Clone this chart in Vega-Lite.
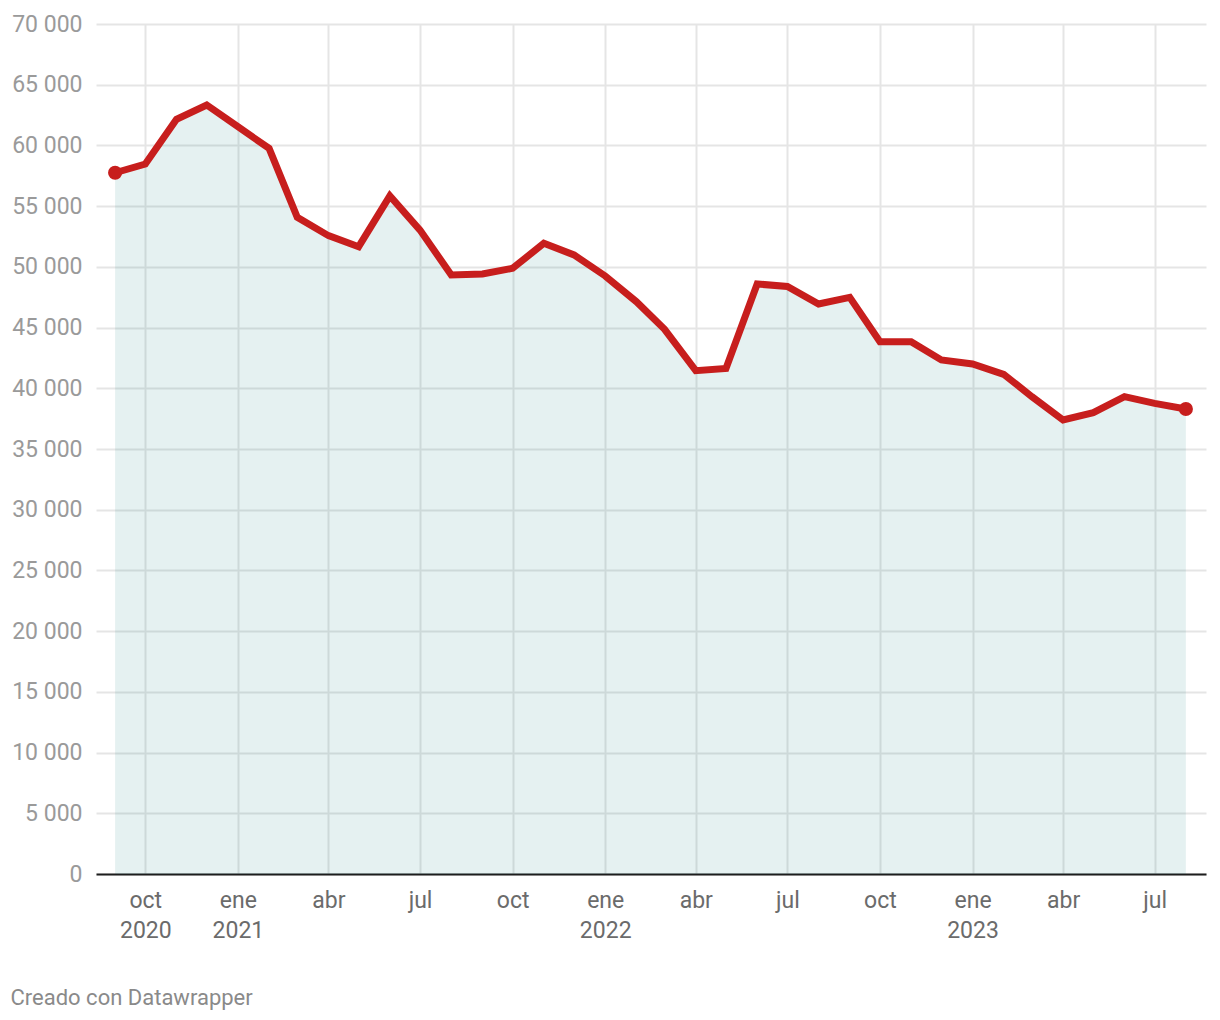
{
  "$schema": "https://vega.github.io/schema/vega-lite/v6.json",
  "width": 1110,
  "height": 850,
  "autosize": "none",
  "padding": {"left": 96, "top": 24, "right": 14, "bottom": 146},
  "background": "#ffffff",
  "config": {
    "view": {"stroke": null},
    "font": "Roboto"
  },
  "data": {
    "values": [
      {"date": "2020-09-01", "value": 57750},
      {"date": "2020-10-01", "value": 58470},
      {"date": "2020-11-01", "value": 62150},
      {"date": "2020-12-01", "value": 63330},
      {"date": "2021-01-01", "value": 61540},
      {"date": "2021-02-01", "value": 59760},
      {"date": "2021-03-01", "value": 54080},
      {"date": "2021-04-01", "value": 52570},
      {"date": "2021-05-01", "value": 51660},
      {"date": "2021-06-01", "value": 55840},
      {"date": "2021-07-01", "value": 53030},
      {"date": "2021-08-01", "value": 49330},
      {"date": "2021-09-01", "value": 49410},
      {"date": "2021-10-01", "value": 49880},
      {"date": "2021-11-01", "value": 51940},
      {"date": "2021-12-01", "value": 50980},
      {"date": "2022-01-01", "value": 49250},
      {"date": "2022-02-01", "value": 47130},
      {"date": "2022-03-01", "value": 44860},
      {"date": "2022-04-01", "value": 41450},
      {"date": "2022-05-01", "value": 41640},
      {"date": "2022-06-01", "value": 48590},
      {"date": "2022-07-01", "value": 48380},
      {"date": "2022-08-01", "value": 46940},
      {"date": "2022-09-01", "value": 47490},
      {"date": "2022-10-01", "value": 43840},
      {"date": "2022-11-01", "value": 43840},
      {"date": "2022-12-01", "value": 42330},
      {"date": "2023-01-01", "value": 42000},
      {"date": "2023-02-01", "value": 41150},
      {"date": "2023-03-01", "value": 39310},
      {"date": "2023-04-01", "value": 37390},
      {"date": "2023-05-01", "value": 37990},
      {"date": "2023-06-01", "value": 39310},
      {"date": "2023-07-01", "value": 38760},
      {"date": "2023-08-01", "value": 38290}
    ]
  },
  "encoding": {
    "x": {
      "field": "date",
      "type": "temporal",
      "scale": {
        "type": "utc",
        "domain": [
          {"year": 2020, "month": 8, "date": 13, "utc": true},
          {"year": 2023, "month": 8, "date": 21, "utc": true}
        ]
      },
      "axis": {
        "title": "Creado con Datawrapper",
        "titleX": -86,
        "titleY": 130,
        "titleAlign": "left",
        "titleAnchor": null,
        "titleBaseline": "alphabetic",
        "titleFont": "Roboto",
        "titleFontSize": 22,
        "titleFontWeight": "normal",
        "titleColor": "#8a8a8a",
        "values": [
          {"year": 2020, "month": 10, "date": 1, "utc": true},
          {"year": 2021, "month": 1, "date": 1, "utc": true},
          {"year": 2021, "month": 4, "date": 1, "utc": true},
          {"year": 2021, "month": 7, "date": 1, "utc": true},
          {"year": 2021, "month": 10, "date": 1, "utc": true},
          {"year": 2022, "month": 1, "date": 1, "utc": true},
          {"year": 2022, "month": 4, "date": 1, "utc": true},
          {"year": 2022, "month": 7, "date": 1, "utc": true},
          {"year": 2022, "month": 10, "date": 1, "utc": true},
          {"year": 2023, "month": 1, "date": 1, "utc": true},
          {"year": 2023, "month": 4, "date": 1, "utc": true},
          {"year": 2023, "month": 7, "date": 1, "utc": true}
        ],
        "labelExpr": "(utcmonth(datum.value) == 0 || (utcyear(datum.value) == 2020 && utcmonth(datum.value) == 9)) ? [['ene','feb','mar','abr','may','jun','jul','ago','sep','oct','nov','dic'][utcmonth(datum.value)], '' + utcyear(datum.value)] : ['ene','feb','mar','abr','may','jun','jul','ago','sep','oct','nov','dic'][utcmonth(datum.value)]",
        "labelFont": "Roboto",
        "labelFontSize": 23,
        "labelColor": "#6b6b6b",
        "labelLineHeight": 30,
        "labelPadding": 15,
        "labelFlush": false,
        "labelOverlap": false,
        "ticks": false,
        "domain": true,
        "domainColor": "#1d1d1d",
        "domainWidth": 2,
        "grid": true,
        "gridColor": "#e5e5e5",
        "gridWidth": 2
      }
    }
  },
  "layer": [
    {
      "mark": {"type": "area", "color": "#007373", "opacity": 0.1},
      "encoding": {
        "y": {
          "field": "value",
          "type": "quantitative",
          "scale": {"domain": [0, 70000], "nice": false},
          "axis": {
            "title": null,
            "values": [0, 5000, 10000, 15000, 20000, 25000, 30000, 35000, 40000, 45000, 50000, 55000, 60000, 65000, 70000],
            "labelExpr": "replace(format(datum.value, ','), ',', ' ')",
            "labelFont": "Roboto",
            "labelFontSize": 23,
            "labelColor": "#9a9a9a",
            "labelPadding": 14,
            "labelBaseline": "middle",
            "ticks": false,
            "domain": false,
            "grid": true,
            "gridColor": "#e5e5e5",
            "gridWidth": 2
          }
        }
      }
    },
    {
      "mark": {"type": "line", "color": "#c71e1d", "strokeWidth": 7, "strokeJoin": "miter", "strokeCap": "butt"},
      "encoding": {"y": {"field": "value", "type": "quantitative"}}
    },
    {
      "transform": [{"filter": "time(datum.date) == time('2020-09-01') || time(datum.date) == time('2023-08-01')"}],
      "mark": {"type": "point", "filled": true, "color": "#c71e1d", "opacity": 1, "size": 200},
      "encoding": {"y": {"field": "value", "type": "quantitative"}}
    }
  ]
}
